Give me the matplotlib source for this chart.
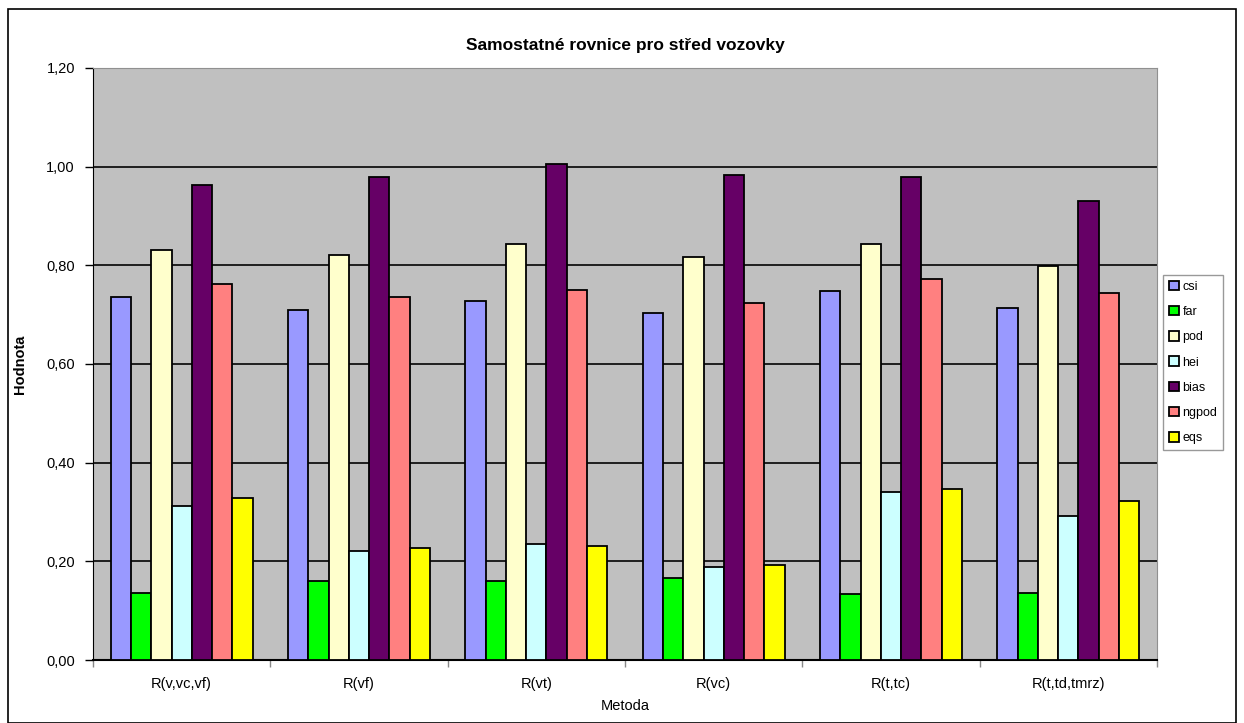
import matplotlib
matplotlib.use("Agg")
import matplotlib.pyplot as plt
from matplotlib.patches import Rectangle
import numpy as np

plt.rcParams['font.family'] = ['Liberation Sans', 'DejaVu Sans']

# methods on the x axis
metody = ["R(v,vc,vf)", "R(vf)", "R(vt)", "R(vc)", "R(t,tc)", "R(t,td,tmrz)"]

# scores per method
csi   = [0.735, 0.709, 0.728, 0.703, 0.747, 0.713]
far   = [0.135, 0.161, 0.160, 0.166, 0.134, 0.135]
pod   = [0.832, 0.821, 0.843, 0.816, 0.843, 0.799]
hei   = [0.312, 0.220, 0.236, 0.188, 0.341, 0.291]
bias  = [0.963, 0.980, 1.005, 0.984, 0.979, 0.930]
ngpod = [0.762, 0.735, 0.750, 0.724, 0.772, 0.743]
eqs   = [0.329, 0.228, 0.232, 0.193, 0.347, 0.322]

names = ["csi", "far", "pod", "hei", "bias", "ngpod", "eqs"]
colors = ["#9999FF", "#00FF00", "#FFFFCC", "#CCFFFF", "#660066", "#FF8080", "#FFFF00"]
series = [csi, far, pod, hei, bias, ngpod, eqs]

fig = plt.figure(figsize=(12.44, 7.23), dpi=100)
ax = fig.add_axes([93/1244, 63/723, 1064/1244, 592/723])
ax.set_facecolor("#C0C0C0")

x = np.arange(len(metody))
w = 0.1145
for i, (vals, name, col) in enumerate(zip(series, names, colors)):
    ax.bar(x + (i - 3) * w, vals, w, color=col, edgecolor="black",
           linewidth=1.3, label=name, zorder=3)

ax.set_xlim(-0.5, len(metody) - 0.5)
ax.set_ylim(0, 1.2)
yt = np.arange(0, 1.21, 0.2)
ax.set_yticks(yt)
ax.set_yticklabels([f"{v:.2f}".replace(".", ",") for v in yt], fontsize=10.5)
ax.yaxis.grid(True, color="#111111", linewidth=1.3, zorder=1)
ax.set_axisbelow(True)
ax.tick_params(axis="y", direction="out", length=6, width=1, colors="black", pad=7)

ax.set_xticks(x)
ax.set_xticklabels(metody, fontsize=10.5)
ax.set_xticks(np.arange(-0.5, len(metody)), minor=True)
ax.tick_params(axis="x", which="major", length=0, pad=12)
ax.tick_params(axis="x", which="minor", length=5, width=1, color="#888888")

for side in ["top", "right"]:
    ax.spines[side].set_color("#909090")
ax.spines["left"].set_color("black")
ax.spines["bottom"].set_color("black")
ax.spines["bottom"].set_linewidth(1.5)

ax.set_title("Samostatné rovnice pro střed vozovky", fontsize=12.5,
             fontweight="bold", pad=13)
ax.set_ylabel("Hodnota", fontsize=10.5, fontweight="bold", labelpad=14)
ax.set_xlabel("Metoda", fontsize=10.5, labelpad=6)

leg = ax.legend(loc="upper left", bbox_to_anchor=(1163/1244, 1 - 275/723),
                bbox_transform=fig.transFigure, fontsize=9, frameon=True,
                fancybox=False, edgecolor="#808080", handlelength=0.8,
                handleheight=0.8, handletextpad=0.3, labelspacing=1.05,
                borderpad=0.45, borderaxespad=0)
leg.get_frame().set_linewidth(1.0)

# outer frame of the chart
fig.patches.append(Rectangle((8/1244, 0), 1228/1244, 1 - 9/723,
                             transform=fig.transFigure, fill=False,
                             edgecolor="black", linewidth=1.2))

fig.savefig("out.png", dpi=100)
